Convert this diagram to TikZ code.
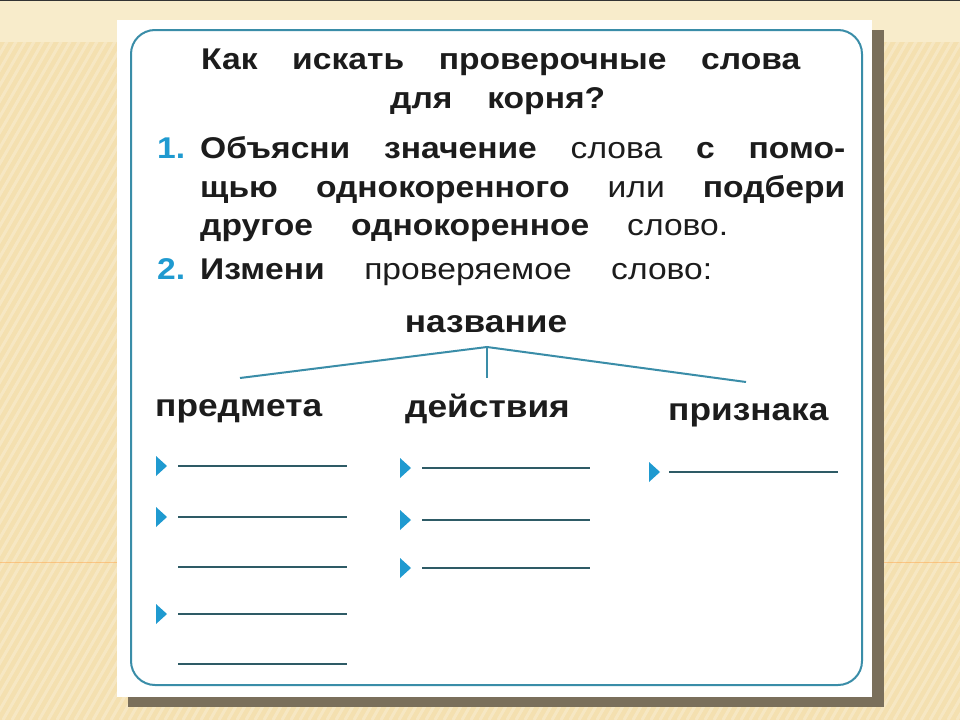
\documentclass[tikz,border=0pt]{standalone}
\usepackage{fontspec}
\setmainfont[FakeStretch=1.12]{Liberation Sans}
\definecolor{paper}{HTML}{F4E0B0}
\definecolor{paperlight}{HTML}{F8ECCB}
\definecolor{shadowc}{HTML}{7A6F5B}
\definecolor{frameblue}{HTML}{3A8DA8}
\definecolor{numblue}{HTML}{1F9AD0}
\definecolor{inkc}{HTML}{1C1C1C}
\definecolor{rulec}{HTML}{2E5B66}
\tikzset{
  txt/.style={inner sep=0pt, text=inkc, font=\fontsize{30}{34}\selectfont},
  num/.style={inner sep=0pt, text=numblue, font=\fontsize{30}{34}\selectfont\bfseries},
  head/.style={txt, font=\fontsize{30}{34}\selectfont\bfseries},
  colhead/.style={txt, font=\fontsize{31.5}{34}\selectfont\bfseries},
  tree/.style={draw=frameblue, line width=2pt},
  answer/.style={draw=rulec, line width=1.5pt},
  marker/.pic={\fill[numblue] (0,-10) -- (11,0) -- (0,10) -- cycle;}
}
\begin{document}
\begin{tikzpicture}[x=1pt, y=-1pt]
	\useasboundingbox (0,0) rectangle (960,720);
	% background
	\fill[paper] (0,0) rectangle (960,720);
	\fill[paperlight] (0,0) rectangle (960,42);
	\begin{scope}
		\clip (0,42) rectangle (960,720);
		\foreach \k in {-420,-411,...,960}
			\draw[white, opacity=0.25, line width=3pt] (\k,720) -- (\k+415,0);
	\end{scope}
	\draw[orange!70, opacity=0.5, line width=0.8pt] (0,562) -- (960,562);
	\draw[black!80, line width=1.5pt] (0,0.5) -- (960,0.5);
	% card
	\fill[shadowc] (128,30) rectangle (884,707);
	\fill[white] (117,20) rectangle (872,697);
	\draw[frameblue, line width=2pt, rounded corners=24pt] (131,30) rectangle (862,685);
	% title
	\node[head, anchor=base west] (title1) at (201,69)
		{\makebox[599pt][s]{Как искать проверочные слова}};
	\node[head, anchor=base west] (title2) at (390,108)
		{\makebox[215pt][s]{для корня?}};
	% step 1
	\node[num, anchor=base west] (n1) at (157,158) {1.};
	\node[txt, anchor=base west] (s1a) at (200,158)
		{\makebox[645pt][s]{\textbf{Объясни значение} слова \textbf{с помо-}}};
	\node[txt, anchor=base west] (s1b) at (200,197)
		{\makebox[645pt][s]{\textbf{щью однокоренного} или \textbf{подбери}}};
	\node[txt, anchor=base west] (s1c) at (200,235)
		{\makebox[528pt][s]{\textbf{другое однокоренное} слово.}};
	% step 2
	\node[num, anchor=base west] (n2) at (157,279) {2.};
	\node[txt, anchor=base west] (s2) at (200,279)
		{\makebox[512pt][s]{\textbf{Измени} проверяемое слово:}};
	\node[colhead, anchor=base] (name) at (486,332) {название};
	\node[colhead, anchor=base west] (obj) at (155,416) {предмета};
	\node[colhead, anchor=base west] (act) at (405,417) {действия};
	\node[colhead, anchor=base west] (attr) at (668,420) {признака};
	% tree
	\coordinate (apex) at (487,347);
	\coordinate (lend) at (240,378);
	\coordinate (mend) at (487,378);
	\coordinate (rend) at (746,382);
	\draw[tree] (lend) -- (apex) -- (rend);
	\draw[tree] (apex) -- (mend);
	% answer lines
	\foreach \y in {466,517,567,614,664}
		\draw[answer] (178,\y) -- (347,\y);
	\foreach \y in {468,520,568}
		\draw[answer] (422,\y) -- (590,\y);
	\draw[answer] (669,472) -- (838,472);
	\foreach \y in {466,517,614}
		\pic at (156,\y) {marker};
	\foreach \y in {468,520,568}
		\pic at (400,\y) {marker};
	\pic at (649,472) {marker};
\end{tikzpicture}
\end{document}
